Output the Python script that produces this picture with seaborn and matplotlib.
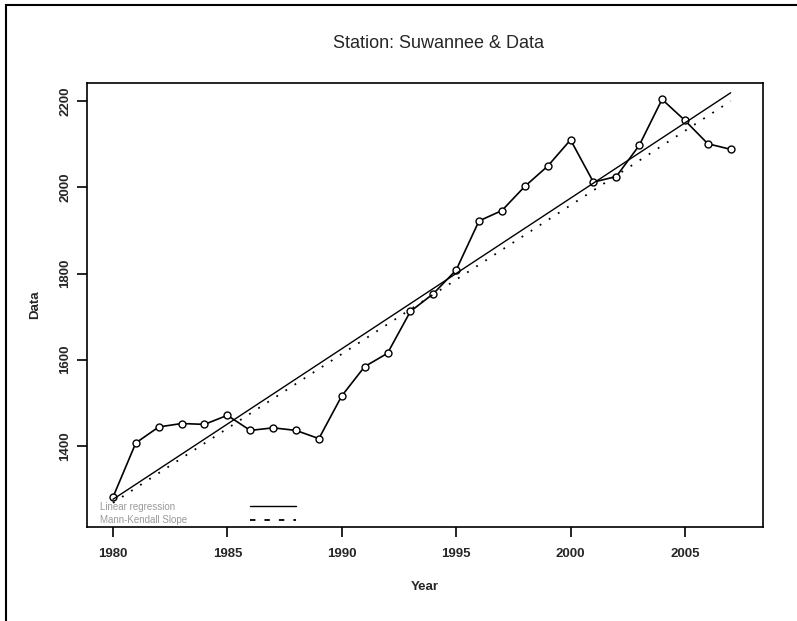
import numpy as np
import pandas as pd
import matplotlib
matplotlib.use("Agg")
import matplotlib.pyplot as plt
import seaborn as sns
from matplotlib.patches import Rectangle

# values
years = list(range(1980, 2008))
data = [1281, 1407, 1444, 1452, 1450, 1471, 1436, 1442, 1436, 1417,
        1516, 1584, 1615, 1712, 1753, 1808, 1922, 1946, 2002, 2049,
        2110, 2012, 2025, 2097, 2204, 2155, 2101, 2088]
# Mann-Kendall slope line, end points
mk_years = [1980, 2007]
mk_values = [1268, 2200]
x_ticks = [1980, 1985, 1990, 1995, 2000, 2005]
y_ticks = [1400, 1600, 1800, 2000, 2200]
legend_labels = ["Linear regression", "Mann-Kendall Slope"]
title = "Station: Suwannee & Data"

df = pd.DataFrame({"Year": years, "Data": data})
mk = pd.DataFrame({"Year": mk_years, "Data": mk_values})

# linear regression fit
slope, intercept = np.polyfit(df["Year"], df["Data"], 1)
df["lin"] = intercept + slope * df["Year"]

sns.set_theme(style="white")
plt.rcParams['font.family'] = ['Liberation Sans', 'DejaVu Sans']

fig = plt.figure(figsize=(7.97, 6.21), dpi=100)
ax = fig.add_axes([0.109, 0.1514, 0.848, 0.715])

sns.lineplot(data=df, x="Year", y="Data", ax=ax, color="black", lw=1.2,
             marker="o", markersize=5, markerfacecolor="white",
             markeredgecolor="black", markeredgewidth=1.0)
sns.lineplot(data=df, x="Year", y="lin", ax=ax, color="black", lw=1.0)
sns.lineplot(data=mk, x="Year", y="Data", ax=ax, color="black", lw=1.3,
             linestyle=(0, (1, 5)))

ax.set_xlim(1978.86, 2008.4)
ax.set_ylim(1212, 2242)
ax.set_xticks(x_ticks)
ax.set_yticks(y_ticks)
ax.set_xticklabels([str(t) for t in x_ticks], fontsize=9.5, fontweight="bold")
ax.set_yticklabels([str(t) for t in y_ticks], fontsize=9.5, fontweight="bold",
                   rotation=90, va="center")
ax.tick_params(axis="x", direction="out", length=7, width=1.2,
               color="black", bottom=True, pad=8)
ax.tick_params(axis="y", direction="out", length=7, width=1.2,
               color="black", left=True, pad=4)
ax.set_xlabel("Year", fontsize=9.5, fontweight="bold", labelpad=15)
ax.set_ylabel("Data", fontsize=9.5, fontweight="bold", labelpad=13)
for s in ax.spines.values():
    s.set_color("black")
    s.set_linewidth(1.2)

ax.set_title(title, fontsize=13, pad=25, x=0.52)

# legend: grey labels on the left, line samples further right
lines = ax.get_lines()
leg = ax.legend([lines[1], lines[2]], ["", ""], loc="lower left",
                bbox_to_anchor=(0.232, -0.01), frameon=False, fontsize=7,
                handlelength=4.8, handletextpad=0, borderpad=0.1,
                labelspacing=0.45)
leg.get_lines()[1].set_linestyle((0, (3, 5)))
for i, lab in enumerate(legend_labels):
    ax.text(0.019, 0.045 - i * 0.029, lab, transform=ax.transAxes,
            fontsize=7, color="#9a9a9a", va="center", ha="left")

# outer border of the image (left and top edges)
fig.add_artist(Rectangle((0.0075, -0.1), 1.2, 1.092, transform=fig.transFigure,
                         fill=False, edgecolor="black", lw=1.5))

fig.savefig("out.png", dpi=100)
